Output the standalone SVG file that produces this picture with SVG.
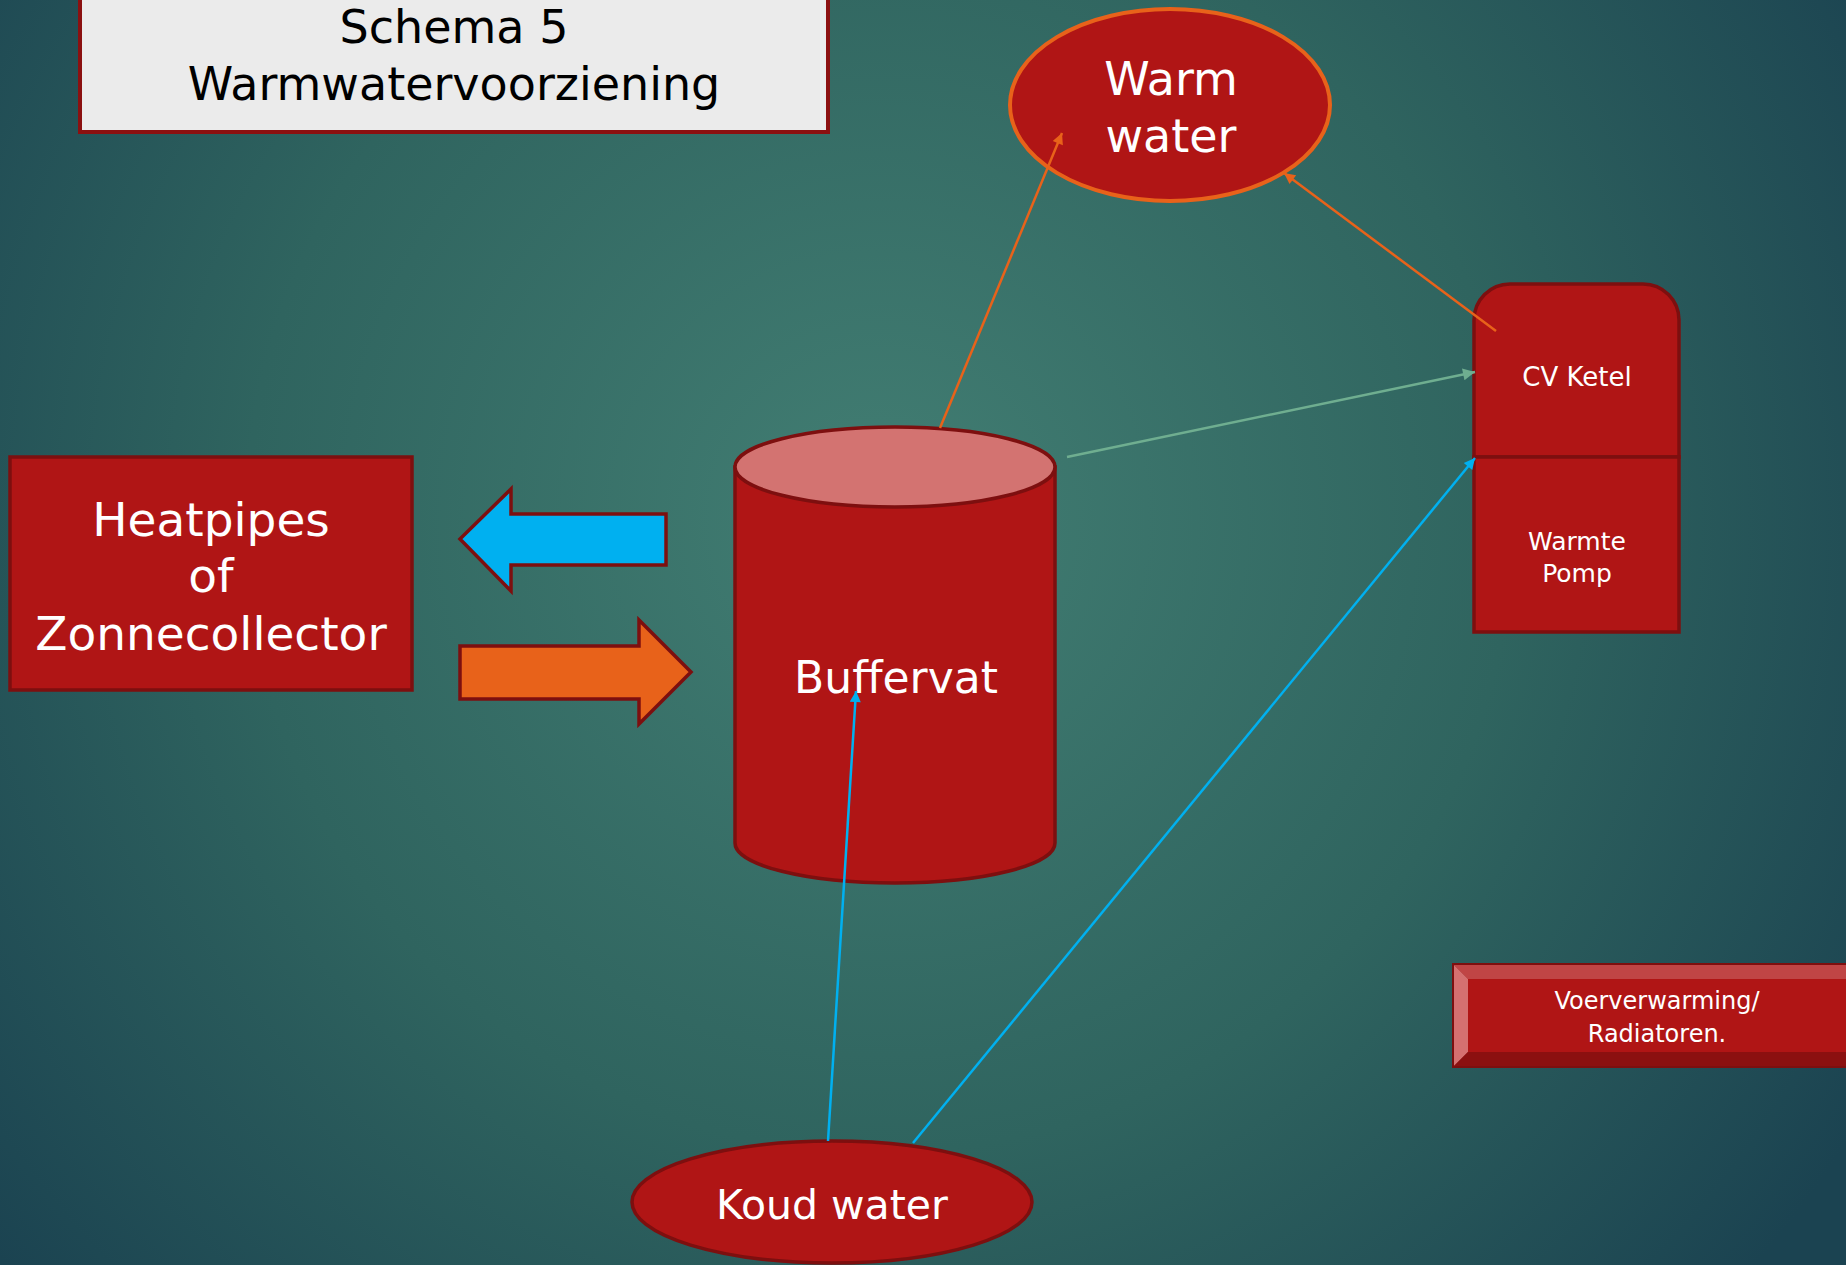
<svg xmlns="http://www.w3.org/2000/svg" width="1846" height="1265" viewBox="0 0 1846 1265">
<defs>
<radialGradient id="bg" cx="880" cy="520" r="1150" gradientUnits="userSpaceOnUse">
<stop offset="0" stop-color="#427e73"/>
<stop offset="0.55" stop-color="#2f645f"/>
<stop offset="1" stop-color="#1b4351"/>
</radialGradient>
<marker id="mOrange" viewBox="0 0 10 10" refX="10" refY="5" markerWidth="15" markerHeight="11" markerUnits="userSpaceOnUse" orient="auto"><path d="M0,0 L10,5 L0,10 z" fill="#e8621a"/></marker>
<marker id="mBlue" viewBox="0 0 10 10" refX="10" refY="5" markerWidth="15" markerHeight="11" markerUnits="userSpaceOnUse" orient="auto"><path d="M0,0 L10,5 L0,10 z" fill="#00b0f0"/></marker>
<marker id="mGreen" viewBox="0 0 10 10" refX="10" refY="5" markerWidth="16" markerHeight="12" markerUnits="userSpaceOnUse" orient="auto"><path d="M0,0 L10,5 L0,10 z" fill="#6fae90"/></marker>
<style>
.red{fill:#b01515;stroke:#7d0f0f;stroke-width:3.5}
.t{font-family:"DejaVu Sans","Liberation Sans",sans-serif;fill:#ffffff;text-anchor:middle}
.title{font-family:"DejaVu Sans","Liberation Sans",sans-serif;fill:#000000;text-anchor:middle;font-size:46px}
.ln{fill:none;stroke-width:2.5}
</style>
</defs>
<rect width="1846" height="1265" fill="url(#bg)"/>

<g id="title">
<rect x="80" y="-10" width="748" height="142" fill="#ebebeb" stroke="#8b1010" stroke-width="4"/>
<text class="title" x="454" y="43">Schema 5</text>
<text class="title" x="454" y="100">Warmwatervoorziening</text>
</g>

<g id="heatpipes">
<rect class="red" x="10" y="457" width="402" height="233"/>
<text class="t" x="211" y="536" font-size="47">Heatpipes</text>
<text class="t" x="211" y="592" font-size="47">of</text>
<text class="t" x="211" y="650" font-size="47">Zonnecollector</text>
</g>

<g id="arrow-blue">
<path d="M460,539 L511,489 L511,514 L666,514 L666,565 L511,565 L511,591 Z" fill="#00b0f0" stroke="#7d0f0f" stroke-width="3.5" stroke-linejoin="miter"/>
</g>
<g id="arrow-orange">
<path d="M460,646 L639,646 L639,620 L691,672 L639,724 L639,699 L460,699 Z" fill="#e8621a" stroke="#7d0f0f" stroke-width="3.5" stroke-linejoin="miter"/>
</g>

<g id="buffervat">
<path class="red" d="M735,467 L735,843 A160,40 0 0 0 1055,843 L1055,467 Z"/>
<ellipse cx="895" cy="467" rx="160" ry="40" fill="#d37371" stroke="#7d0f0f" stroke-width="3.5"/>
<text class="t" x="896" y="693" font-size="44">Buffervat</text>
</g>

<g id="warm-water">
<ellipse cx="1170" cy="105" rx="160" ry="96" fill="#b01515" stroke="#e8621a" stroke-width="4"/>
<text class="t" x="1171" y="95" font-size="46">Warm</text>
<text class="t" x="1171" y="152" font-size="46">water</text>
</g>

<g id="cv-ketel">
<path class="red" d="M1474,457 L1474,320 A36,36 0 0 1 1510,284 L1643,284 A36,36 0 0 1 1679,320 L1679,457 Z"/>
<text class="t" x="1577" y="386" font-size="26">CV Ketel</text>
</g>
<g id="warmte-pomp">
<rect class="red" x="1474" y="457" width="205" height="175"/>
<text class="t" x="1577" y="550" font-size="25">Warmte</text>
<text class="t" x="1577" y="582" font-size="25">Pomp</text>
</g>

<g id="voerverwarming">
<rect x="1453" y="964" width="400" height="103" fill="#8b1010"/>
<path d="M1453,964 L1853,964 L1853,979 L1468,979 Z" fill="#c04545"/>
<path d="M1453,964 L1468,979 L1468,1052 L1453,1067 Z" fill="#d57070"/>
<path d="M1453,1067 L1468,1052 L1853,1052 L1853,1067 Z" fill="#8b1010"/>
<rect x="1468" y="979" width="385" height="73" fill="#b01515"/>
<rect x="1453" y="964" width="400" height="103" fill="none" stroke="#7d0f0f" stroke-width="2"/>
<text class="t" x="1657" y="1009" font-size="24">Voerverwarming/</text>
<text class="t" x="1657" y="1042" font-size="24">Radiatoren.</text>
</g>

<g id="koud-water">
<ellipse cx="832" cy="1202" rx="200" ry="61" fill="#b01515" stroke="#7d0f0f" stroke-width="3.5"/>
<text class="t" x="832" y="1219" font-size="41">Koud water</text>
</g>

<g id="connectors">
<line class="ln" x1="940" y1="428" x2="1062" y2="133" stroke="#e8621a" marker-end="url(#mOrange)"/>
<line class="ln" x1="1496" y1="331" x2="1284" y2="173" stroke="#e8621a" marker-end="url(#mOrange)"/>
<line class="ln" x1="1067" y1="457" x2="1475" y2="372" stroke="#6fae90" marker-end="url(#mGreen)"/>
<line class="ln" x1="828" y1="1141" x2="856" y2="691" stroke="#00b0f0" marker-end="url(#mBlue)"/>
<line class="ln" x1="913" y1="1143" x2="1475" y2="458" stroke="#00b0f0" marker-end="url(#mBlue)"/>
</g>
</svg>
